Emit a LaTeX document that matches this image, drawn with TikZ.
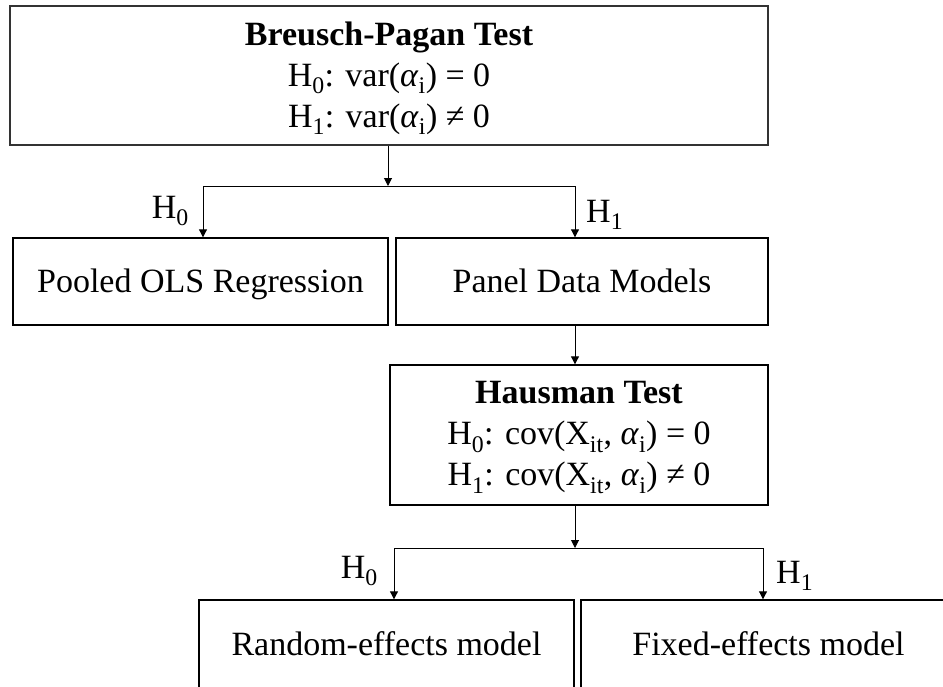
\documentclass[tikz,border=0pt]{standalone}
\usepackage{fontspec}
\setmainfont{Liberation Serif}
\usetikzlibrary{arrows.meta}

% italic alpha with a subscript i, set in the text font
\newcommand{\alphai}{\textit{α}\textsubscript{i}}

\tikzset{
  box/.style={draw=black, line width=1.4pt, inner sep=0pt, align=center,
    font=\fontsize{34}{41}\selectfont},
  onebox/.style={box, text height=25pt, text depth=4pt},
  bigbox/.style={box, line width=2pt, draw=black!80},
  boxtext/.style={inner sep=0pt, align=center, anchor=north,
    font=\fontsize{34}{41}\selectfont},
  arr/.style={line width=1pt, -{Triangle[length=8pt,width=8pt]}},
  link/.style={line width=1pt},
  hyp/.style={inner sep=0pt, font=\fontsize{34}{41}\selectfont}
}

\begin{document}
\begin{tikzpicture}[x=1pt,y=-1pt]
  \useasboundingbox (0,0) rectangle (943,686);
  \clip (0,0) rectangle (943,686);

  % test boxes with their three-line texts
  \node[bigbox, minimum width=758pt, minimum height=139pt] (bp) at (389,75.5) {};
  \node[boxtext] (bptext) at (389,21.5)
    {\textbf{Breusch-Pagan Test}\\
     H\textsubscript{0}: var(\alphai) = 0\\
     H\textsubscript{1}: var(\alphai) ≠ 0};
  \node[box, minimum width=378pt, minimum height=140pt] (haus) at (579,435) {};
  \node[boxtext] (haustext) at (579,381.5)
    {\textbf{Hausman Test}\\
     H\textsubscript{0}: cov(X\textsubscript{it}, \alphai) = 0\\
     H\textsubscript{1}: cov(X\textsubscript{it}, \alphai) ≠ 0};

  % model boxes
  \node[onebox, minimum width=375pt, minimum height=87pt] (pooled) at (200.5,281.5)
    {Pooled OLS Regression};
  \node[onebox, minimum width=372pt, minimum height=87pt] (panel) at (582,281.5)
    {Panel Data Models};
  \node[onebox, text height=22pt, minimum width=375pt, minimum height=92pt] (random) at (386.5,646)
    {Random-effects model};
  \node[onebox, text height=22pt, minimum width=375pt, minimum height=92pt] (fixed) at (768.5,646)
    {Fixed-effects model};

  % branch points
  \coordinate (s1) at (388,186);
  \coordinate (s1l) at (203,186);
  \coordinate (s1r) at (575,186);
  \coordinate (s2) at (575,548);
  \coordinate (s2l) at (394,548);
  \coordinate (s2r) at (763,548);

  % first test
  \draw[arr] (bp.south -| s1) -- (s1);
  \draw[link] (s1l) -- (s1r);
  \draw[arr] (s1l) -- (s1l |- pooled.north);
  \draw[arr] (s1r) -- (s1r |- panel.north);
  \node[hyp, anchor=base east] (h0a) at (189,218) {H\textsubscript{0}};
  \node[hyp, anchor=base west] (h1a) at (586,222) {H\textsubscript{1}};

  % second test
  \draw[arr] (s1r |- panel.south) -- (s1r |- haus.north);
  \draw[arr] (s2 |- haus.south) -- (s2);
  \draw[link] (s2l) -- (s2r);
  \draw[arr] (s2l) -- (s2l |- random.north);
  \draw[arr] (s2r) -- (s2r |- fixed.north);
  \node[hyp, anchor=base east] (h0b) at (378,578) {H\textsubscript{0}};
  \node[hyp, anchor=base west] (h1b) at (776,583) {H\textsubscript{1}};
\end{tikzpicture}
\end{document}
